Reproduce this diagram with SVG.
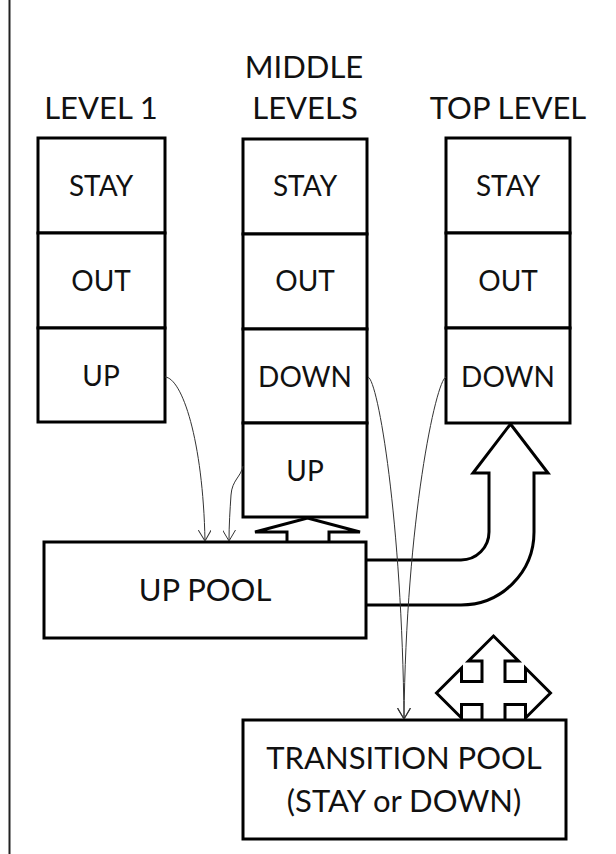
<svg xmlns="http://www.w3.org/2000/svg" width="616" height="854" viewBox="0 0 616 854">
<style>
.bg{fill:#fff}
.cell{fill:#fff;stroke:#000;stroke-width:3}
.blk{fill:#fff;stroke:#000;stroke-width:3;stroke-linejoin:miter}
.thin{fill:none;stroke:#333;stroke-width:1}
text{font-family:Lato,"Open Sans","Liberation Sans",sans-serif;fill:#111;text-anchor:middle}
.c{font-size:28px}
.h{font-size:31px}
.p{font-size:31px}
</style>
<defs>
<marker id="v" viewBox="0 0 11 13" refX="11" refY="6.5" markerWidth="11" markerHeight="13" markerUnits="userSpaceOnUse" orient="auto">
<path d="M0,0 L11,6.5 L0,13" fill="none" stroke="#333" stroke-width="1"/>
</marker>
</defs>
<rect class="bg" x="0" y="0" width="616" height="854"/>
<line x1="9.5" y1="0" x2="9.5" y2="854" stroke="#222" stroke-width="2"/>

<g id="block-arrows">
<path class="blk" d="M366,560 L461,560 A28,28 0 0 0 489,532 L489,473 L473,473 L510.5,424 L548,473 L534,473 L534,532 A73,73 0 0 1 461,605 L366,605"/>
<path class="blk" d="M287,542 L287,532 L255,532 L307.5,518 L360,532 L329,532 L329,542"/>
<path class="blk" d="M493.5,636 L518.5,661 L505,661 L505,681.5 L525.5,681.5 L525.5,668 L550.5,693 L525.5,718 L525.5,704.5 L505,704.5 L505,725 L518.5,725 L493.5,750 L468.5,725 L482,725 L482,704.5 L461.5,704.5 L461.5,718 L436.5,693 L461.5,668 L461.5,681.5 L482,681.5 L482,661 L468.5,661 Z"/>
</g>

<g id="level1">
<text class="h" x="101" y="119">LEVEL 1</text>
<rect class="cell" x="38" y="138" width="127" height="95"/>
<rect class="cell" x="38" y="233" width="127" height="95"/>
<rect class="cell" x="38" y="328" width="127" height="94"/>
<text class="c" x="101" y="196">STAY</text>
<text class="c" x="101" y="291">OUT</text>
<text class="c" x="101" y="386">UP</text>
</g>

<g id="middle-levels">
<text class="h" x="304" y="78">MIDDLE</text>
<text class="h" x="305" y="119">LEVELS</text>
<rect class="cell" x="243" y="139" width="124" height="95"/>
<rect class="cell" x="243" y="234" width="124" height="95"/>
<rect class="cell" x="243" y="329" width="124" height="94"/>
<rect class="cell" x="243" y="423" width="124" height="94"/>
<text class="c" x="305" y="196">STAY</text>
<text class="c" x="305" y="291">OUT</text>
<text class="c" x="305" y="387">DOWN</text>
<text class="c" x="305" y="481">UP</text>
</g>

<g id="top-level">
<text class="h" x="508" y="119">TOP LEVEL</text>
<rect class="cell" x="446" y="138" width="124" height="95"/>
<rect class="cell" x="446" y="233" width="124" height="95"/>
<rect class="cell" x="446" y="328" width="124" height="95"/>
<text class="c" x="508" y="196">STAY</text>
<text class="c" x="508" y="291">OUT</text>
<text class="c" x="508" y="387">DOWN</text>
</g>

<g id="up-pool">
<rect class="cell" x="44" y="542" width="322" height="96"/>
<text class="p" x="205" y="601">UP POOL</text>
</g>

<g id="transition-pool">
<rect class="cell" x="243" y="720" width="323" height="119"/>
<text class="p" x="404" y="769">TRANSITION POOL</text>
<text class="p" x="404" y="812">(STAY or DOWN)</text>
</g>

<g id="connectors">
<path class="thin" marker-end="url(#v)" d="M165,377 C182,378 203,440 205,541"/>
<path class="thin" marker-end="url(#v)" d="M243,466 C241,477 232,480 231,495 C230,510 229,525 229,541"/>
<path class="thin" marker-end="url(#v)" d="M368,377 C378,380 402,520 404,719"/>
<path class="thin" marker-end="url(#v)" d="M446,377 C436,380 406,520 404,719"/>
</g>
</svg>
